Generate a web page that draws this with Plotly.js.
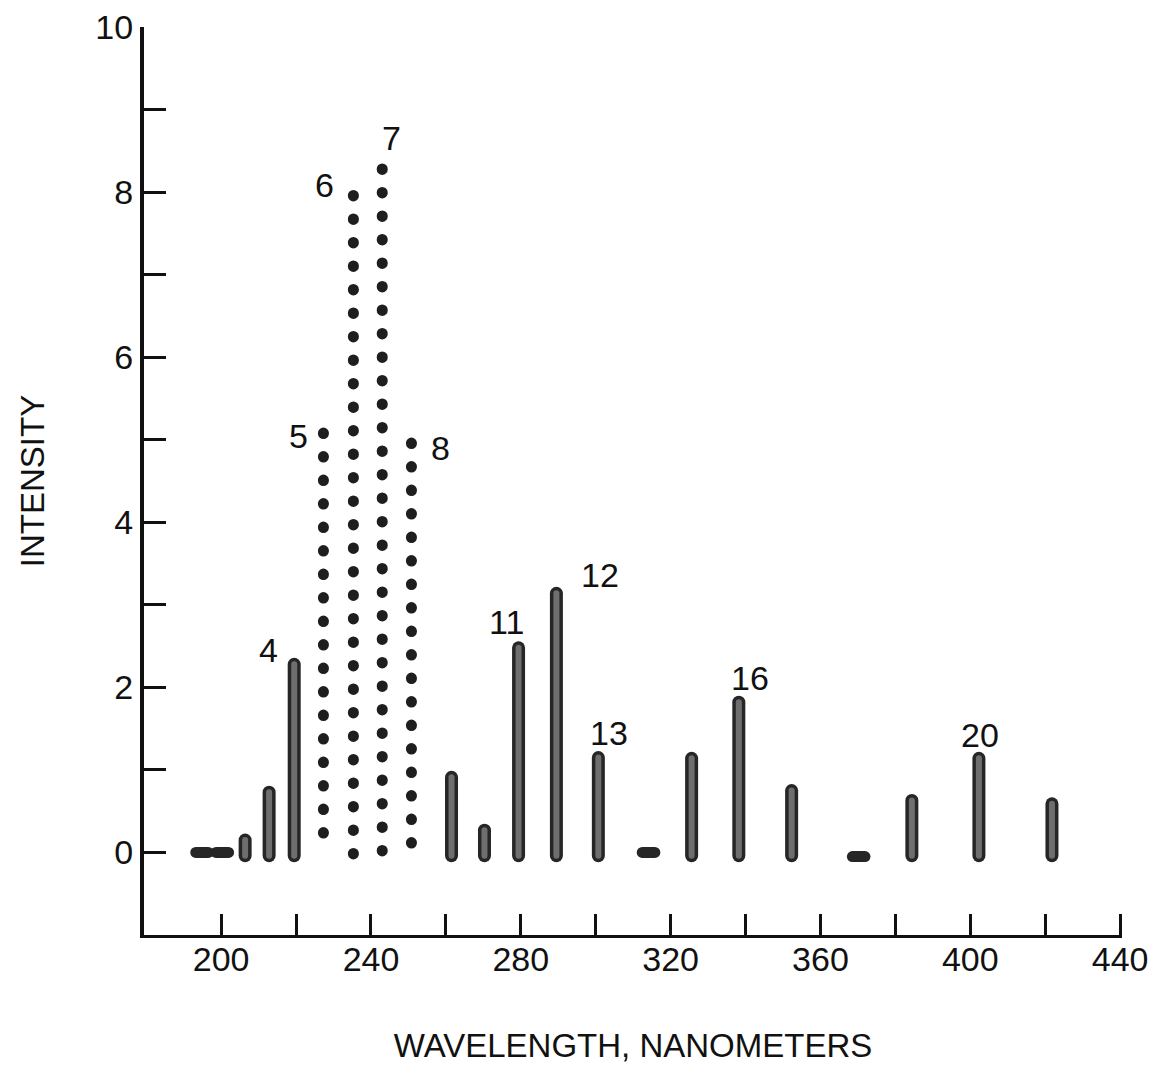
<!DOCTYPE html>
<html><head><meta charset="utf-8">
<script src="https://cdn.plot.ly/plotly-3.0.1.min.js"></script>
<style>html,body{margin:0;padding:0;background:#fff}#chart{width:1172px;height:1072px}</style>
</head><body><div id="chart"></div>
<script>
// Spectral lines: wavelength (nm) and peak intensity
const wavelengths = [194.9, 200.3, 206.4, 212.8, 219.5, 227.3, 235.3, 243.0, 250.8, 261.5, 270.3, 279.4, 289.5, 300.7, 314.1, 325.6, 338.2, 352.3, 370.2, 384.4, 402.3, 421.8];
const intensities = [0.0, 0.0, 0.15, 0.73, 2.28, 5.08, 7.96, 8.28, 4.96, 0.91, 0.27, 2.48, 3.14, 1.15, 0.0, 1.14, 1.82, 0.75, -0.05, 0.63, 1.14, 0.59];
const lineKinds = ['flat','flat','smudge','smudge','smudge','dots','dots','dots','dots','smudge','smudge','smudge','smudge','smudge','flat','smudge','smudge','smudge','flat','smudge','smudge','smudge'];

// Line number labels
const labelTexts = ['4','5','6','7','8','11','12','13','16','20'];
const labelX = [212.6, 220.6, 227.5, 245.5, 258.6, 276.2, 301.1, 303.5, 341.2, 402.7];
const labelY = [2.45, 5.05, 8.08, 8.65, 4.9, 2.79, 3.36, 1.45, 2.11, 1.42];

// Axis ticks
const xTickVals = [200, 220, 240, 260, 280, 300, 320, 340, 360, 380, 400, 420, 440];
const xTickText = ['200', '', '240', '', '280', '', '320', '', '360', '', '400', '', '440'];
const yTickVals = [0, 1, 2, 3, 4, 5, 6, 7, 8, 9, 10];
const yTickText = ['0', '', '2', '', '4', '', '6', '', '8', '', '10'];

const BASE = -0.04;
const FONT = 'Liberation Sans, Arial, sans-serif';

function segs(kind) {
  const xs = [], ys = [];
  wavelengths.forEach((w, i) => {
    if (lineKinds[i] !== kind) return;
    xs.push(w, w, null);
    ys.push(intensities[i], BASE, null);
  });
  return {x: xs, y: ys};
}

const dots = segs('dots');
const smudge = segs('smudge');
const flatX = [], flatY = [];
wavelengths.forEach((w, i) => { if (lineKinds[i] === 'flat') { flatX.push(w); flatY.push(intensities[i]); } });

const traces = [
  {x: smudge.x, y: smudge.y, mode: 'lines', line: {color: '#262626', width: 13}, hoverinfo: 'skip', showlegend: false},
  {x: smudge.x, y: smudge.y, mode: 'lines', line: {color: '#6e6e6e', width: 6}, hoverinfo: 'skip', showlegend: false},
  {x: dots.x, y: dots.y, mode: 'lines', line: {color: '#1e1e1e', width: 11, dash: '0.5px,23px'}, hoverinfo: 'skip', showlegend: false},
  {x: flatX, y: flatY, mode: 'markers', marker: {symbol: 'line-ew', size: 9, color: '#262626', line: {color: '#262626', width: 11}}, hoverinfo: 'skip', showlegend: false}
];

const annotations = labelTexts.map((t, i) => ({
  x: labelX[i], y: labelY[i], xref: 'x', yref: 'y', text: t, showarrow: false,
  font: {family: FONT, size: 34, color: '#111'}
}));

const layout = {
  width: 1172, height: 1072,
  paper_bgcolor: '#ffffff', plot_bgcolor: '#ffffff',
  margin: {l: 144, r: 50, t: 27, b: 137},
  showlegend: false,
  font: {family: FONT, color: '#111'},
  xaxis: {
    range: [179.4, 440.5], showgrid: false, zeroline: false,
    showline: true, linecolor: '#111', linewidth: 3,
    ticks: 'inside', ticklen: 21, tickwidth: 3, tickcolor: '#111',
    tickmode: 'array', tickvals: xTickVals, ticktext: xTickText,
    ticklabelstandoff: -8,
    tickfont: {size: 34, family: FONT, color: '#111'},
    title: {text: 'WAVELENGTH, NANOMETERS', standoff: 58, font: {size: 33, family: FONT, color: '#111'}}
  },
  yaxis: {
    range: [-1.0, 10.0], showgrid: false, zeroline: false,
    showline: true, linecolor: '#111', linewidth: 4,
    ticks: 'inside', ticklen: 22, tickwidth: 3, tickcolor: '#111',
    tickmode: 'array', tickvals: yTickVals, ticktext: yTickText,
    tickfont: {size: 34, family: FONT, color: '#111'},
    title: {text: 'INTENSITY', standoff: 42, font: {size: 33, family: FONT, color: '#111'}}
  },
  annotations: annotations
};

Plotly.newPlot('chart', traces, layout, {staticPlot: true, displayModeBar: false}).then(gd => {
  gd.querySelectorAll('.scatterlayer path').forEach(p => {
    p.style.strokeLinecap = 'round';
    p.style.strokeLinejoin = 'round';
  });
});
</script>
</body></html>
